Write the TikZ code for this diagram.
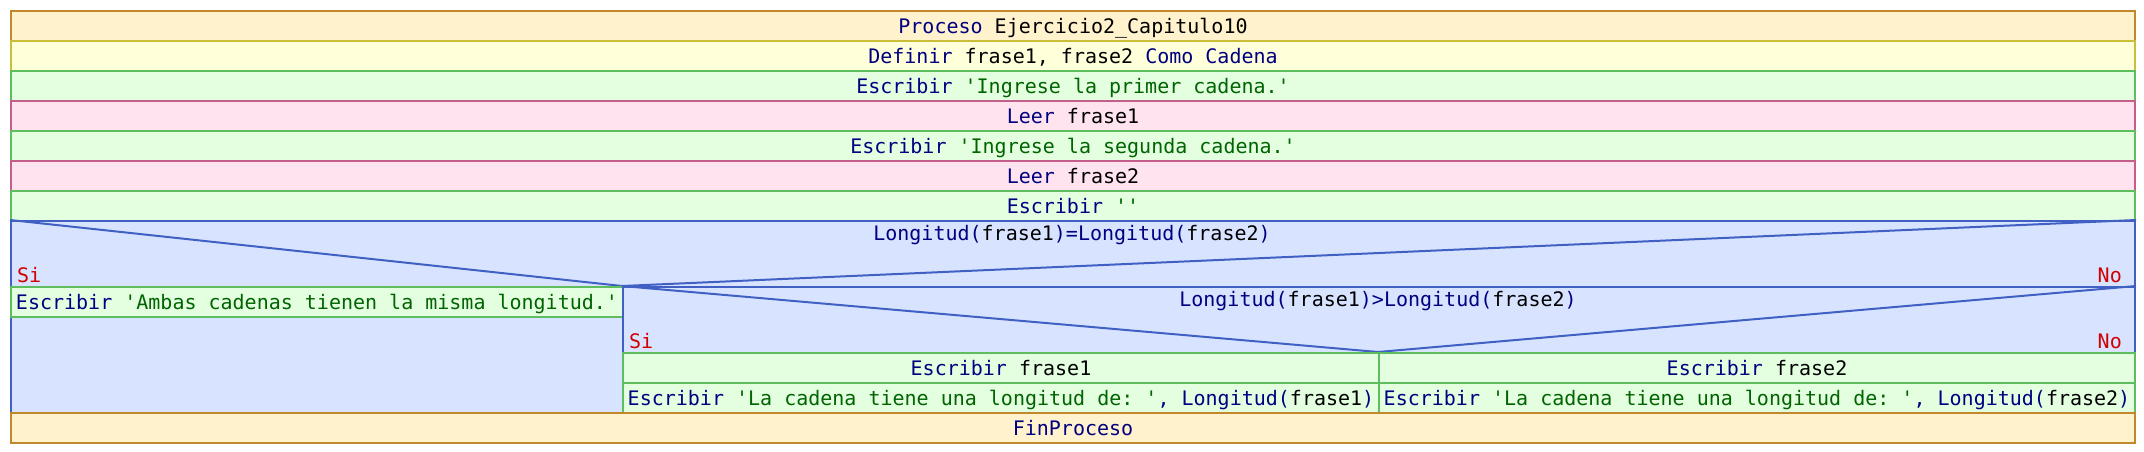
\documentclass[tikz,border=0pt]{standalone}
\usepackage{fontspec}
\setmonofont{DejaVu Sans Mono}
\definecolor{kw}{HTML}{000080}
\definecolor{strc}{HTML}{006400}
\definecolor{sino}{HTML}{D00000}
\definecolor{procF}{HTML}{FFF2CC}
\definecolor{procD}{HTML}{C4882C}
\definecolor{defF}{HTML}{FFFFD9}
\definecolor{defD}{HTML}{C8BE3A}
\definecolor{escF}{HTML}{E4FFE0}
\definecolor{escD}{HTML}{5EBE5E}
\definecolor{leeF}{HTML}{FFE4F0}
\definecolor{leeD}{HTML}{C45E8A}
\definecolor{decF}{HTML}{D8E4FF}
\definecolor{decD}{HTML}{4060C4}
\newcommand\kwd[1]{\textcolor{kw}{#1}}
\newcommand\strg[1]{\textcolor{strc}{#1}}
\tikzset{
  box/.style={draw, line width=2pt, minimum height=30pt, inner sep=0pt,
    text height=14.6pt, text depth=0pt, anchor=north west,
    font=\ttfamily\fontsize{20}{24}\selectfont},
  proc/.style={box, fill=procF, draw=procD},
  defi/.style={box, fill=defF, draw=defD},
  esc/.style={box, fill=escF, draw=escD},
  lee/.style={box, fill=leeF, draw=leeD},
  dec/.style={box, fill=decF, draw=decD},
  decline/.style={draw=decD, line width=2pt},
  txt/.style={inner sep=0pt, anchor=base, font=\ttfamily\fontsize{20}{24}\selectfont},
  sn/.style={txt, text=sino}
}
\begin{document}
\begin{tikzpicture}[x=1pt,y=-1pt]
\useasboundingbox (0,0) rectangle (2144,452);
\node[proc, minimum width=2124pt] (p0) at (10,10) {\kwd{Proceso} Ejercicio2\_Capitulo10};
\node[defi, minimum width=2124pt] (p1) at (10,40) {\kwd{Definir} frase1, frase2 \kwd{Como Cadena}};
\node[esc, minimum width=2124pt] (p2) at (10,70) {\kwd{Escribir} \strg{'Ingrese la primer cadena.'}};
\node[lee, minimum width=2124pt] (p3) at (10,100) {\kwd{Leer} frase1};
\node[esc, minimum width=2124pt] (p4) at (10,130) {\kwd{Escribir} \strg{'Ingrese la segunda cadena.'}};
\node[lee, minimum width=2124pt] (p5) at (10,160) {\kwd{Leer} frase2};
\node[esc, minimum width=2124pt] (p6) at (10,190) {\kwd{Escribir} \strg{''}};
% first decision
\node[dec, minimum width=2124pt, minimum height=192pt] (d1) at (10,220) {};
\coordinate (v1) at (622,286);
\draw[decline] (d1.north west) -- (v1) -- (d1.north east);
\node[txt] (c1) at (1072,240) {\kwd{Longitud(}frase1\kwd{)=Longitud(}frase2\kwd{)}};
\node[sn, anchor=base west] (si1) at (17,282) {Si};
\node[sn, anchor=base east] (no1) at (2122,282) {No};
\node[esc, minimum width=612pt] (a1) at (10,286) {\kwd{Escribir} \strg{'Ambas cadenas tienen la misma longitud.'}};
% second decision
\node[dec, minimum width=1512pt, minimum height=126pt] (d2) at (622,286) {};
\coordinate (v2) at (1378,352);
\draw[decline] (d2.north west) -- (v2) -- (d2.north east);
\node[txt] (c2) at (1378,306) {\kwd{Longitud(}frase1\kwd{)>Longitud(}frase2\kwd{)}};
\node[sn, anchor=base west] (si2) at (629,348) {Si};
\node[sn, anchor=base east] (no2) at (2122,348) {No};
\node[esc, minimum width=756pt] (b1) at (622,352) {\kwd{Escribir} frase1};
\node[esc, minimum width=756pt] (b2) at (622,382) {\kwd{Escribir} \strg{'La cadena tiene una longitud de: '}\kwd{, Longitud(}frase1\kwd{)}};
\node[esc, minimum width=756pt] (e1) at (1378,352) {\kwd{Escribir} frase2};
\node[esc, minimum width=756pt] (e2) at (1378,382) {\kwd{Escribir} \strg{'La cadena tiene una longitud de: '}\kwd{, Longitud(}frase2\kwd{)}};
\node[proc, minimum width=2124pt] (p7) at (10,412) {\kwd{FinProceso}};
\end{tikzpicture}
\end{document}
